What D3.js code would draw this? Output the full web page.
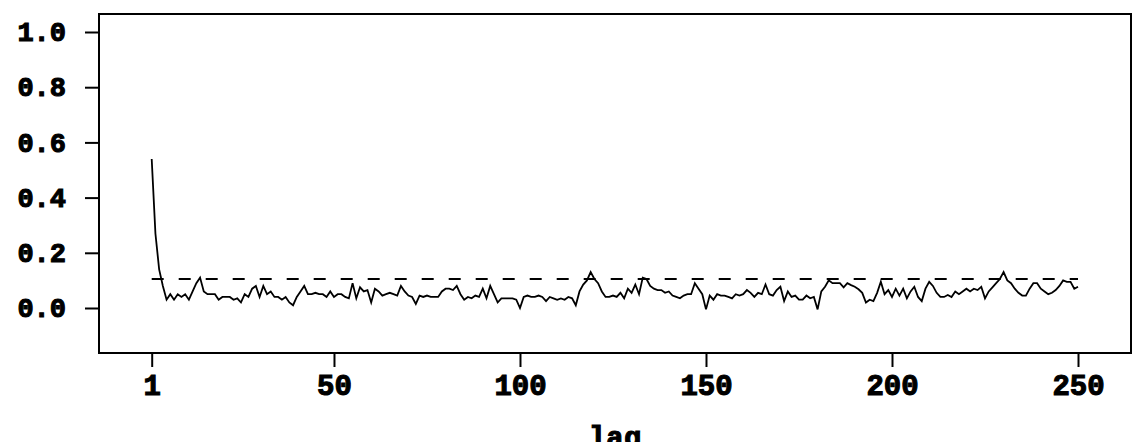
<!DOCTYPE html>
<html lang="en">
  <head>
    <meta charset="utf-8" />
    <title>ACF by lag</title>
    <style>
      body { margin: 0; background: #fff; }
      svg { display: block; }
      .tick text, .lab {
        font-family: "Liberation Mono", "DejaVu Sans Mono", monospace;
        font-weight: bold;
        fill: #000;
        stroke: #000;
        stroke-width: 1.1px;
      }
      .domain { display: none; }
      .tick line { stroke: #000; stroke-width: 2; }
    </style>
  </head>
  <body>
    <svg id="chart" width="1139" height="442"></svg>
    <script src="https://d3js.org/d3.v7.min.js"></script>
    <script>
      // autocorrelation by lag (lags 1..250)
      var acf = [
        0.54, 0.27, 0.14, 0.08, 0.03, 0.05, 0.03, 0.05, 0.04, 0.05,
        0.03, 0.06, 0.09, 0.11, 0.06, 0.05, 0.05, 0.05, 0.03, 0.04,
        0.04, 0.04, 0.03, 0.035, 0.02, 0.05, 0.04, 0.07, 0.08, 0.04,
        0.08, 0.05, 0.06, 0.04, 0.04, 0.03, 0.04, 0.02, 0.01, 0.04,
        0.06, 0.08, 0.05, 0.05, 0.055, 0.05, 0.05, 0.04, 0.06, 0.04,
        0.05, 0.05, 0.04, 0.035, 0.09, 0.035, 0.075, 0.06, 0.065, 0.02,
        0.07, 0.06, 0.045, 0.05, 0.055, 0.05, 0.045, 0.08, 0.06, 0.045,
        0.04, 0.015, 0.045, 0.04, 0.045, 0.04, 0.04, 0.04, 0.06, 0.07,
        0.07, 0.065, 0.08, 0.05, 0.03, 0.04, 0.035, 0.045, 0.04, 0.07,
        0.035, 0.08, 0.05, 0.02, 0.035, 0.035, 0.035, 0.035, 0.03, 0.0,
        0.04, 0.045, 0.04, 0.04, 0.045, 0.04, 0.025, 0.04, 0.035, 0.03,
        0.035, 0.03, 0.04, 0.035, 0.01, 0.06, 0.085, 0.1, 0.13, 0.105,
        0.09, 0.06, 0.04, 0.04, 0.045, 0.04, 0.055, 0.035, 0.07, 0.055,
        0.085, 0.05, 0.11, 0.105, 0.08, 0.07, 0.065, 0.065, 0.055, 0.06,
        0.045, 0.04, 0.035, 0.045, 0.05, 0.05, 0.09, 0.07, 0.05, -0.005,
        0.045, 0.03, 0.05, 0.045, 0.045, 0.04, 0.035, 0.05, 0.045, 0.05,
        0.065, 0.055, 0.04, 0.055, 0.05, 0.085, 0.05, 0.045, 0.065, 0.077,
        0.025, 0.06, 0.04, 0.045, 0.03, 0.03, 0.045, 0.035, 0.04, -0.005,
        0.06, 0.077, 0.1, 0.09, 0.09, 0.09, 0.075, 0.09, 0.083, 0.077,
        0.068, 0.055, 0.02, 0.03, 0.025, 0.055, 0.095, 0.05, 0.065, 0.04,
        0.07, 0.045, 0.07, 0.035, 0.06, 0.077, 0.04, 0.025, 0.07, 0.095,
        0.08, 0.055, 0.04, 0.04, 0.047, 0.04, 0.06, 0.05, 0.06, 0.07,
        0.06, 0.07, 0.065, 0.077, 0.035, 0.06, 0.075, 0.09, 0.105, 0.13,
        0.1, 0.09, 0.07, 0.055, 0.045, 0.045, 0.07, 0.09, 0.09, 0.07,
        0.06, 0.05, 0.055, 0.065, 0.08, 0.1, 0.095, 0.095, 0.07, 0.077
      ];
      var bound = 0.105; // dashed reference line
      var xTicks = [1, 50, 100, 150, 200, 250];
      var yTicks = [0.0, 0.2, 0.4, 0.6, 0.8, 1.0];

      var svg = d3.select("#chart");
      var box = { left: 99, top: 14, right: 1131, bottom: 353 };

      var x = d3.scaleLinear().domain([1, 250]).range([151.7, 1078]);
      var y = d3.scaleLinear().domain([0, 1]).range([308, 32]);

      // frame
      svg
        .append("rect")
        .attr("x", box.left)
        .attr("y", box.top)
        .attr("width", box.right - box.left)
        .attr("height", box.bottom - box.top)
        .attr("fill", "none")
        .attr("stroke", "#000")
        .attr("stroke-width", 2);

      var yAxis = d3
        .axisLeft(y)
        .tickValues(yTicks)
        .tickSize(14)
        .tickPadding(19)
        .tickFormat(d3.format(".1f"));
      svg
        .append("g")
        .attr("transform", "translate(" + box.left + ",0)")
        .call(yAxis)
        .selectAll("text")
        .style("font-size", "27px")
        .style("letter-spacing", "0px");

      var xAxis = d3
        .axisBottom(x)
        .tickValues(xTicks)
        .tickSize(14)
        .tickPadding(7);
      svg
        .append("g")
        .attr("transform", "translate(0," + box.bottom + ")")
        .call(xAxis)
        .selectAll("text")
        .style("font-size", "29px");

      svg
        .append("text")
        .attr("class", "lab")
        .attr("x", (box.left + box.right) / 2)
        .attr("y", 447)
        .attr("text-anchor", "middle")
        .style("font-size", "29px")
        .text("lag");

      // dashed bound
      svg
        .append("line")
        .attr("x1", x(1))
        .attr("x2", x(250))
        .attr("y1", y(bound))
        .attr("y2", y(bound))
        .attr("stroke", "#000")
        .attr("stroke-width", 2)
        .attr("stroke-dasharray", "12,15");

      var line = d3
        .line()
        .x(function (d, i) { return x(i + 1); })
        .y(function (d) { return y(d); });

      svg
        .append("path")
        .datum(acf)
        .attr("d", line)
        .attr("fill", "none")
        .attr("stroke", "#000")
        .attr("stroke-width", 1.8);
    </script>
  </body>
</html>
